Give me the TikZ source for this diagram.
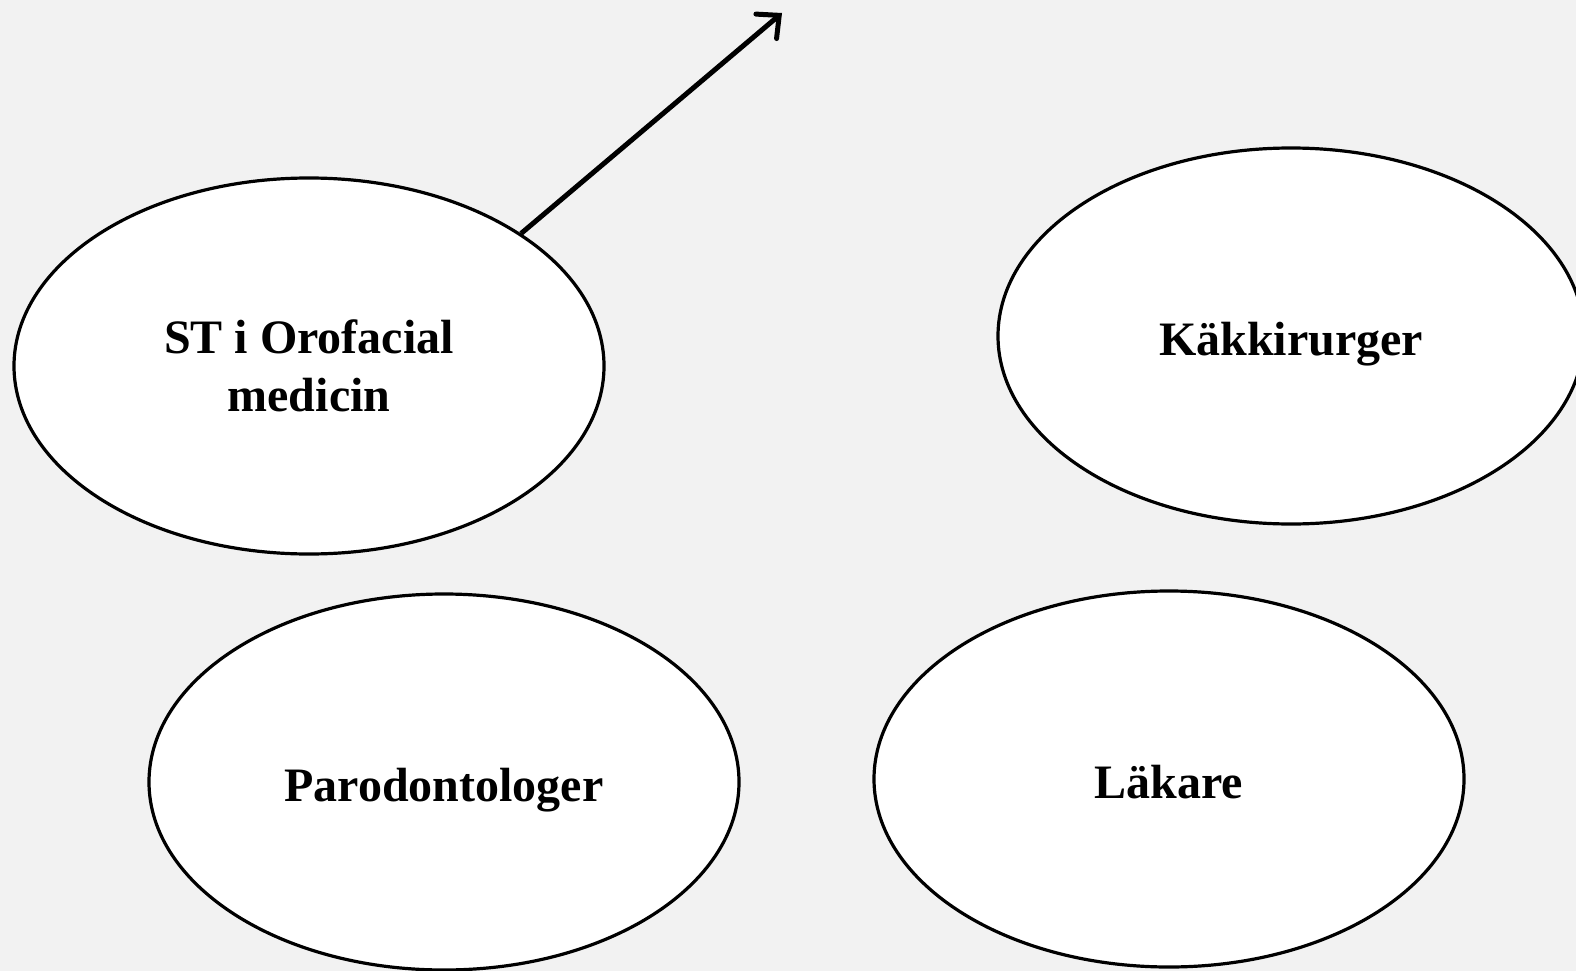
\documentclass[tikz,border=0pt]{standalone}
\usepackage{fontspec}
\setmainfont{Liberation Serif}
\usetikzlibrary{shapes,arrows.meta}
\tikzset{>={Straight Barb[length=17pt,width=32pt,line cap=round]}}
\colorlet{background}{black!5}
\colorlet{penColor}{black}
\tikzset{blob/.style={ellipse, draw=penColor, fill=white, line width=3.2pt,
  minimum width=590pt, minimum height=376pt, inner sep=0pt, align=center,
  font=\fontsize{48}{58}\selectfont\bfseries},
  oneline/.style={text height=38pt, text depth=0pt}}

\begin{document}
\begin{tikzpicture}[x=1pt,y=-1pt]
\fill[background] (0,0) rectangle (1576,971);
\useasboundingbox (0,0) rectangle (1576,971);
\node[blob] (ost) at (309,366) {ST i Orofacial\\medicin};
\node[blob, oneline, minimum width=586pt] (kak) at (1291,336) {Käkkirurger};
\node[blob, oneline] (par) at (444,782) {Parodontologer};
\node[blob, oneline] (lak) at (1169,779) {Läkare};
\coordinate (up) at (782,13);
\draw[->, penColor, line width=5pt] (ost.32.5) -- (up);
\end{tikzpicture}
\end{document}
